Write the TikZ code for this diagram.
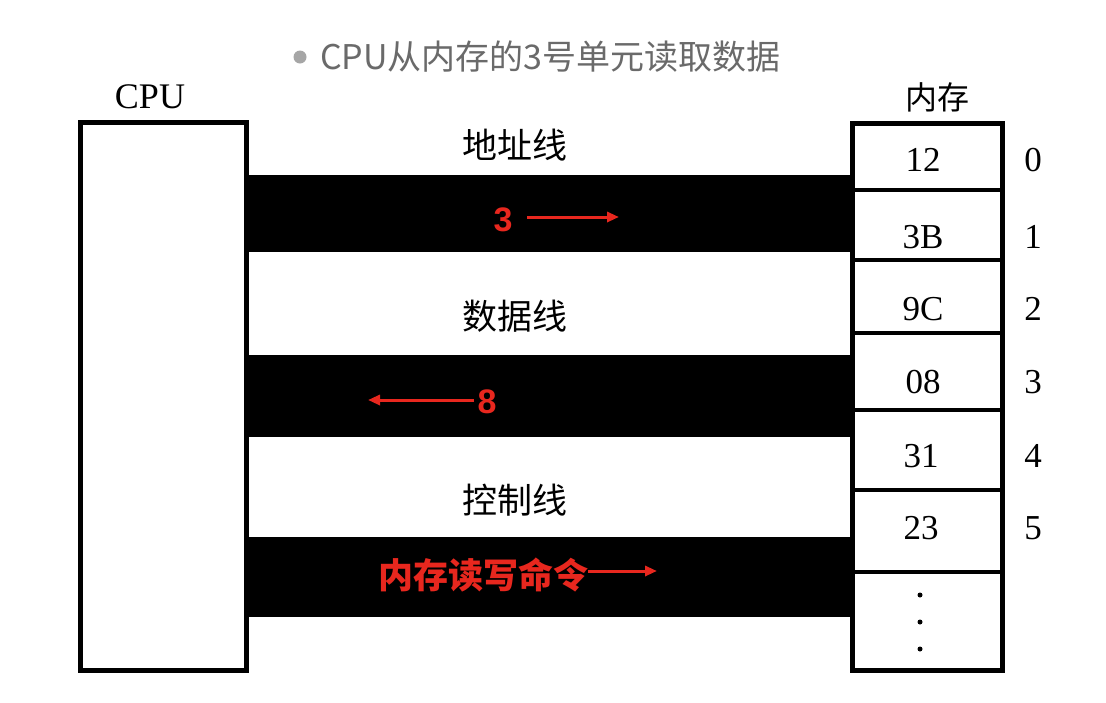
\documentclass[tikz,border=0pt]{standalone}
\usepackage{fontspec}
\setmainfont{Liberation Serif}
\newfontfamily\cjk{Noto Sans CJK SC}
\newfontfamily\redsans{Liberation Sans}
\usetikzlibrary{arrows.meta}
\definecolor{redmark}{HTML}{E8271E}
\definecolor{titlegray}{HTML}{6A6A6A}
\tikzset{
  box/.style={draw=black, line width=5pt, fill=white, inner sep=0pt},
  bus/.style={fill=black, draw=none, inner sep=0pt},
  cell/.style={draw=none, inner sep=0pt, minimum width=150pt},
  val/.style={inner sep=0pt, font=\fontsize{35}{37}\selectfont},
  idx/.style={inner sep=0pt, font=\fontsize{35}{37}\selectfont},
  buslabel/.style={inner sep=0pt, font=\cjk\fontsize{35}{37}\selectfont},
  redtxt/.style={inner sep=0pt, text=redmark, font=\redsans\bfseries\fontsize{34}{36}\selectfont},
  redcjk/.style={inner sep=0pt, text=redmark, font=\cjk\bfseries\fontsize{35}{37}\selectfont},
  redarrow/.style={draw=redmark, line width=3pt, -{Triangle[length=12pt,width=10pt]}},
  divider/.style={draw=black, line width=3.5pt},
}
\begin{document}
\begin{tikzpicture}[x=1pt,y=-1pt]
\useasboundingbox (0,0) rectangle (1106,702);
\fill[white] (0,0) rectangle (1106,702);
% title
\node[circle, fill=gray!70, inner sep=0pt, minimum size=13pt] (bullet) at (300,57) {};
\node[anchor=west, inner sep=0pt, text=titlegray, font=\cjk\fontsize{34}{36}\selectfont] (title) at (320,57) {CPU从内存的3号单元读取数据};
% buses
\node[bus, minimum width=610pt, minimum height=77pt] (abus) at (548,213.5) {};
\node[bus, minimum width=610pt, minimum height=82pt] (dbus) at (548,396) {};
\node[bus, minimum width=610pt, minimum height=80pt] (cbus) at (548,577) {};
% CPU
\node[box, minimum width=166pt, minimum height=548pt] (cpu) at (163,396) {};
\node[inner sep=0pt, font=\fontsize{36}{38}\selectfont] (cpulabel) at (150,97) {CPU};
% memory
\node[box, minimum width=150pt, minimum height=547pt] (mem) at (927.5,396.5) {};
\node[inner sep=0pt, font=\cjk\fontsize{32}{34}\selectfont] (memlabel) at (937,97) {内存};
% cells
\node[cell, minimum height=67pt] (c0) at (927.5,156.5) {};
\node[cell, minimum height=70pt] (c1) at (927.5,225) {};
\node[cell, minimum height=73pt] (c2) at (927.5,296.5) {};
\node[cell, minimum height=77pt] (c3) at (927.5,371.5) {};
\node[cell, minimum height=80pt] (c4) at (927.5,450) {};
\node[cell, minimum height=82pt] (c5) at (927.5,531) {};
\node[cell, minimum height=98pt] (c6) at (927.5,621) {};
\foreach \c in {c0,c1,c2,c3,c4,c5}{
  \draw[divider] (\c.south west) -- (\c.south east);
}
\foreach \y in {595,622,649}{
  \fill (920,\y) circle (2.5pt);
}
% values
\node[val] (v0) at (923,160) {12};
\node[val] (v1) at (923,237) {3B};
\node[val] (v2) at (923,309) {9C};
\node[val] (v3) at (923,382) {08};
\node[val] (v4) at (921,456) {31};
\node[val] (v5) at (921,528) {23};
% indices
\node[idx] (i0) at (1033,160) {0};
\node[idx] (i1) at (1033,237) {1};
\node[idx] (i2) at (1033,309) {2};
\node[idx] (i3) at (1033,382) {3};
\node[idx] (i4) at (1033,456) {4};
\node[idx] (i5) at (1033,528) {5};
% bus labels
\node[buslabel] (la) at (515,145) {地址线};
\node[buslabel] (ld) at (515,316) {数据线};
\node[buslabel] (lc) at (515,500) {控制线};
% red annotations
\node[redtxt] (n3) at (503,220) {3};
\coordinate (a3s) at (527,217);
\coordinate (a3e) at (619,217);
\draw[redarrow] (a3s) -- (a3e);
\node[redtxt] (n8) at (487,402) {8};
\coordinate (a8s) at (474,400);
\coordinate (a8e) at (368,400);
\draw[redarrow] (a8s) -- (a8e);
\node[redcjk] (ncmd) at (483,575) {内存读写命令};
\coordinate (acs) at (588,571);
\coordinate (ace) at (657,571);
\draw[redarrow] (acs) -- (ace);
\end{tikzpicture}
\end{document}
